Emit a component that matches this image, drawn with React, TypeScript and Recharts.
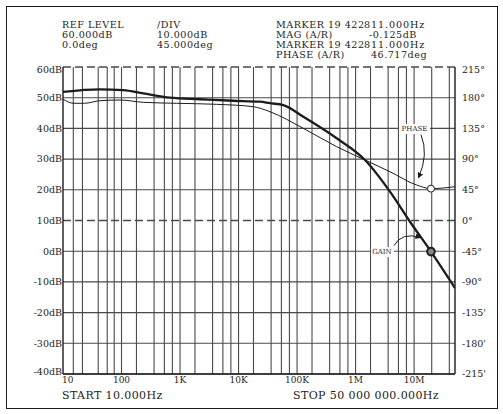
import React from 'react';
import { LineChart, Line, XAxis, YAxis, ReferenceLine, ReferenceDot } from 'recharts';

// gain trace (thick), dB on left axis
const gainFreq = [10, 43, 107, 236, 673, 2190, 8040, 23200, 34400, 58200, 128000, 475000, 1.45e6, 3.87e6, 8.51e6, 1.942e7, 5e7];
const gainDb = [51.9, 52.7, 52.5, 51.4, 50.0, 49.5, 49.0, 48.7, 48.2, 47.6, 43.8, 36.8, 29.7, 19.4, 9.6, -0.125, -12];

// phase trace (thin), degrees on right axis
const phaseFreq = [10, 15.4, 23.1, 42.9, 94.2, 236, 877, 4230, 17900, 34400, 128000, 475000, 1.45e6, 3.87e6, 1.107e7, 1.942e7, 5e7];
const phaseDeg = [177.7, 171.8, 171.8, 175.6, 176.6, 173.2, 171.8, 170.3, 166.8, 159.5, 135.1, 108.2, 88.7, 71.5, 52, 46.717, 49.5];

const markerFreq = 19422811;
const markerGain = -0.125;
const markerPhase = 46.717;

const freqTicks = [10, 100, 1000, 1e4, 1e5, 1e6, 1e7];
const freqTickLabels = ['10', '100', '1K', '10K', '100K', '1M', '10M'];
const gridFreqs = [
  15, 21.5, 40, 57, 75, 100,
  180, 360, 540, 740, 1000,
  1800, 3600, 5400, 7400, 1e4,
  1.8e4, 3.6e4, 5.4e4, 7.4e4, 1e5,
  1.8e5, 3.6e5, 5.4e5, 7.4e5, 1e6,
  1.8e6, 3.6e6, 5.4e6, 7.4e6, 1e7,
  2e7, 4e7,
];
const dbTicks = [60, 50, 40, 30, 20, 10, 0, -10, -20, -30, -40];
const dashedDb = [60, 10];
const phaseTicks = [225, 180, 135, 90, 45, 0, -45, -90, -135, -180, -225];
const phaseTickLabels = ['215°', '180°', '135°', '90°', '45°', '0°', '-45°', '-90°', '-135\'', '-180\'', '-215\''];

const headerLeft = [
  ['REF LEVEL', '/DIV'],
  ['60.000dB', '10.000dB'],
  ['0.0deg', '45.000deg'],
];
const headerRight = [
  ['MARKER 19 422', '811.000Hz'],
  ['MAG (A/R)', '-0.125dB'],
  ['MARKER 19 422', '811.000Hz'],
  ['PHASE (A/R)', '46.717deg'],
];

const gainData = gainFreq.map((f, i) => ({ f, v: gainDb[i] }));
const phaseData = phaseFreq.map((f, i) => ({ f, v: phaseDeg[i] }));

const FONT = 'DejaVu Serif';
const INK = '#1c1c1c';
const GRID = '#4a4a4a';

const Arrow = ({ id }: { id: string }) => (
  <defs>
    <marker id={id} markerWidth={6} markerHeight={6} refX={5} refY={3} orient="auto" markerUnits="userSpaceOnUse">
      <path d="M0,0 L6,3 L0,6 z" fill={INK} />
    </marker>
  </defs>
);

const PhaseNote = (props: any) => {
  const { cx, cy } = props;
  return (
    <g>
      <Arrow id="arrPhase" />
      <circle cx={cx} cy={cy} r={3.5} fill="#fff" stroke={INK} strokeWidth={1} />
      <rect x={cx - 32} y={cy - 64.5} width={31} height={10} fill="#fff" />
      <text x={cx - 16.5} y={cy - 59.5} textAnchor="middle" dominantBaseline="central" fontSize={7} fontFamily={FONT} fill={INK}>PHASE</text>
      <path d={`M${cx - 10},${cy - 54} Q${cx - 2},${cy - 34} ${cx - 12.5},${cy - 11}`} fill="none" stroke={INK} strokeWidth={1} markerEnd="url(#arrPhase)" />
    </g>
  );
};

const GainNote = (props: any) => {
  const { cx, cy } = props;
  return (
    <g>
      <Arrow id="arrGain" />
      <circle cx={cx} cy={cy} r={3.8} fill="#888" stroke={INK} strokeWidth={2} />
      <rect x={cx - 60} y={cy - 4.5} width={23} height={10} fill="#fff" />
      <text x={cx - 49} y={cy + 0.5} textAnchor="middle" dominantBaseline="central" fontSize={7} fontFamily={FONT} fill={INK}>GAIN</text>
      <path d={`M${cx - 37},${cy - 6} Q${cx - 29},${cy - 20} ${cx - 10.5},${cy - 14}`} fill="none" stroke={INK} strokeWidth={1} markerEnd="url(#arrGain)" />
    </g>
  );
};

// frequency labels; the first one sits just right of the left edge
const FreqTick = (props: any) => {
  const { x, y, payload, index } = props;
  const label = freqTickLabels[freqTicks.indexOf(payload.value)] ?? '';
  return (
    <text x={index === 0 ? x - 1 : x} y={y} dy="0.71em" textAnchor={index === 0 ? 'start' : 'middle'} fontSize={9} fontFamily={FONT} fill={INK}>
      {label}
    </text>
  );
};

// edge labels are nudged inside the plot height
const edgeNudge = (v: number, top: number, bottom: number) => (v === top ? 2.5 : v === bottom ? -2 : 0);

const DbTick = (props: any) => {
  const { x, y, payload } = props;
  return (
    <text x={x} y={y + edgeNudge(payload.value, 60, -40)} dy="0.355em" textAnchor="end" fontSize={9.5} fontFamily={FONT} fill={INK}>
      {`${payload.value}dB`}
    </text>
  );
};

const PhaseTick = (props: any) => {
  const { x, y, payload } = props;
  return (
    <text x={x} y={y + edgeNudge(payload.value, 225, -999)} dy="0.355em" textAnchor="start" fontSize={9.5} fontFamily={FONT} fill={INK}>
      {phaseTickLabels[phaseTicks.indexOf(payload.value)] ?? ''}
    </text>
  );
};

const headStyle: React.CSSProperties = {
  position: 'absolute',
  fontFamily: FONT,
  fontSize: 9.6,
  letterSpacing: 0.5,
  lineHeight: '10px',
  color: INK,
  whiteSpace: 'pre',
};

const footStyle: React.CSSProperties = {
  ...headStyle,
  fontSize: 11,
  letterSpacing: 0.4,
  lineHeight: '11px',
};

export default function App() {
  return (
    <div style={{ position: 'fixed', left: 0, top: 0, width: 503, height: 414, background: '#fff' }}>
      <div style={{ position: 'absolute', left: 6, top: 6, width: 490, height: 401, border: `1px solid ${INK}` }} />

      {headerLeft.map((row, i) => (
        <React.Fragment key={`hl${i}`}>
          <div style={{ ...headStyle, left: 62, top: 20 + i * 10 }}>{row[0]}</div>
          <div style={{ ...headStyle, left: 157, top: 20 + i * 10 }}>{row[1]}</div>
        </React.Fragment>
      ))}
      {headerRight.map((row, i) => {
        const isMarker = row[0].startsWith('MARKER');
        return (
          <React.Fragment key={`hr${i}`}>
            <div style={{ ...headStyle, left: 276, top: 20 + i * 10 }}>{row[0]}</div>
            <div style={{ ...headStyle, left: isMarker ? 364 : i === 1 ? 369 : 371, top: 20 + i * 10, letterSpacing: isMarker ? 0.9 : 0.5 }}>{row[1]}</div>
          </React.Fragment>
        );
      })}

      <div style={{ ...footStyle, left: 62, top: 390 }}>START 10.000Hz</div>
      <div style={{ ...footStyle, left: 293, top: 390 }}>STOP 50 000 000.000Hz</div>

      <div style={{ position: 'absolute', left: 0, top: 0 }}>
        <LineChart width={503} height={414} margin={{ top: 67, right: 3, bottom: 10, left: 8 }}>
          <XAxis
            dataKey="f"
            type="number"
            scale="log"
            domain={[10, 5e7]}
            allowDataOverflow
            ticks={freqTicks}
            interval={0}
            axisLine={false}
            tickLine={false}
            tickSize={0}
            tickMargin={3}
            height={30}
            tick={<FreqTick />}
          />
          <YAxis
            yAxisId="left"
            type="number"
            domain={[-40, 60]}
            ticks={dbTicks}
            interval={0}
            axisLine={false}
            tickLine={false}
            tickSize={0}
            tickMargin={1}
            width={55}
            tick={<DbTick />}
          />
          <YAxis
            yAxisId="right"
            orientation="right"
            type="number"
            domain={[-225, 225]}
            ticks={phaseTicks}
            interval={0}
            axisLine={false}
            tickLine={false}
            tickSize={0}
            tickMargin={7}
            width={45}
            tick={<PhaseTick />}
          />

          {gridFreqs.map((f) => (
            <ReferenceLine key={`gx${f}`} yAxisId="left" x={f} stroke={GRID} strokeWidth={1.1} />
          ))}
          {dbTicks.filter((d) => !dashedDb.includes(d)).map((d) => (
            <ReferenceLine key={`gy${d}`} yAxisId="left" y={d} stroke={GRID} strokeWidth={1.1} />
          ))}
          {dashedDb.map((d) => (
            <ReferenceLine key={`gd${d}`} yAxisId="left" y={d} stroke={GRID} strokeWidth={1.3} strokeDasharray="8 4" />
          ))}
          <ReferenceLine yAxisId="left" x={10} stroke={INK} strokeWidth={1.4} />
          <ReferenceLine yAxisId="left" x={5e7} stroke={INK} strokeWidth={1.4} />
          <ReferenceLine yAxisId="left" y={-40} stroke={INK} strokeWidth={1.4} />

          <Line
            yAxisId="left"
            data={gainData}
            dataKey="v"
            type="monotone"
            stroke={INK}
            strokeWidth={2.3}
            dot={false}
            activeDot={false}
            isAnimationActive={false}
          />
          <Line
            yAxisId="right"
            data={phaseData}
            dataKey="v"
            type="monotone"
            stroke={INK}
            strokeWidth={1}
            dot={false}
            activeDot={false}
            isAnimationActive={false}
          />

          <ReferenceDot yAxisId="right" x={markerFreq} y={markerPhase} r={3.5} shape={PhaseNote} />
          <ReferenceDot yAxisId="left" x={markerFreq} y={markerGain} r={4} shape={GainNote} />
        </LineChart>
      </div>
    </div>
  );
}
